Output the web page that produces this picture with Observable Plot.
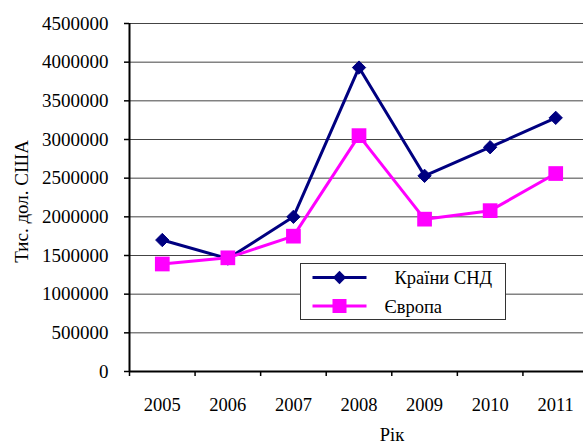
<!DOCTYPE html>
<html>
<head>
<meta charset="utf-8">
<script src="https://cdn.jsdelivr.net/npm/d3@7"></script>
<script src="https://cdn.jsdelivr.net/npm/@observablehq/plot@0.6"></script>
<style>
  html, body { margin: 0; padding: 0; background: #fff; }
  #wrap { position: relative; width: 583px; height: 444px; overflow: hidden; font-family: "Liberation Serif", serif; }
  #wrap svg { max-width: none !important; }
  #wrap svg.overlay { position: absolute; left: 0; top: 0; pointer-events: none; }
  #wrap svg text { font-family: "Liberation Serif", serif; }
</style>
</head>
<body>
<div id="wrap"></div>
<script>
const years = [2005, 2006, 2007, 2008, 2009, 2010, 2011];
const cisValues = [1700000, 1460000, 2000000, 3930000, 2530000, 2900000, 3280000];
const europeValues = [1390000, 1470000, 1750000, 3050000, 1970000, 2080000, 2560000];
const yTicks = [0, 500000, 1000000, 1500000, 2000000, 2500000, 3000000, 3500000, 4000000, 4500000];
const seriesNames = ["Країни СНД", "Європа"];
const yTitle = "Тис. дол. США";
const xTitle = "Рік";

const cis = years.map((year, i) => ({year, value: cisValues[i]}));
const europe = years.map((year, i) => ({year, value: europeValues[i]}));
const bounds = years.map(y => y - 0.5);

const navy = "#000080";
const magenta = "#ff00ff";
const serif = "Liberation Serif";

const chart = Plot.plot({
  width: 588,
  height: 444,
  marginLeft: 129,
  marginRight: 0,
  marginTop: 23,
  marginBottom: 73,
  style: {fontFamily: "'Liberation Serif', serif", fontSize: "18px", background: "transparent", color: "#000", overflow: "visible", maxWidth: "none"},
  x: {type: "linear", domain: [years[0] - 0.5, years[years.length - 1] + 0.5]},
  y: {domain: [0, 4500000]},
  marks: [
    Plot.gridY(yTicks.filter(v => v > 0), {stroke: "#444", strokeOpacity: 1, strokeWidth: 1}),
    Plot.axisY(yTicks, {tickSize: 5, tickPadding: 16, tickFormat: d3.format("d"), fontSize: 19, fontFamily: serif, label: null, stroke: "#000", strokeWidth: 1.5}),
    Plot.axisX(years, {tickSize: 0, tickPadding: 26, tickFormat: d => String(d), fontSize: 18.5, fontFamily: serif, label: null}),
    Plot.axisX(bounds, {tickSize: 5, tickFormat: () => "", label: null, stroke: "#000", strokeWidth: 1.5}),
    Plot.ruleX([years[0] - 0.5], {stroke: "#000", strokeWidth: 2}),
    Plot.ruleY([0], {stroke: "#000", strokeWidth: 2}),
    Plot.line(cis, {x: "year", y: "value", stroke: navy, strokeWidth: 3}),
    Plot.line(europe, {x: "year", y: "value", stroke: magenta, strokeWidth: 3}),
    Plot.dot(cis, {x: "year", y: "value", symbol: "diamond2", r: 6, fill: navy, stroke: navy, strokeWidth: 1}),
    Plot.dot(europe, {x: "year", y: "value", symbol: "square", r: 8.3, fill: magenta, stroke: "none"})
  ]
});

const wrap = document.getElementById("wrap");
wrap.appendChild(chart);

// Overlay: titles and legend
const ov = d3.select(wrap).append("svg")
  .attr("class", "overlay")
  .attr("width", 583).attr("height", 444)
  .attr("font-family", serif);

ov.append("text")
  .attr("transform", "translate(28,201.5) rotate(-90)")
  .attr("text-anchor", "middle")
  .attr("font-family", serif).attr("font-size", 19)
  .text(yTitle);

ov.append("text")
  .attr("x", 392).attr("y", 441)
  .attr("text-anchor", "middle")
  .attr("font-family", serif).attr("font-size", 18.5)
  .text(xTitle);

const lg = ov.append("g").attr("transform", "translate(300.5,263.5)");
lg.append("rect").attr("width", 205).attr("height", 56).attr("fill", "#fff").attr("stroke", "#333").attr("stroke-width", 1);
// row 1
lg.append("line").attr("x1", 12).attr("x2", 66).attr("y1", 14).attr("y2", 14).attr("stroke", navy).attr("stroke-width", 3);
lg.append("path").attr("d", d3.symbol(d3.symbolDiamond2, Math.PI * 36)()).attr("transform", "translate(39,14)").attr("fill", navy);
lg.append("text").attr("x", 94).attr("y", 20.5).attr("font-family", serif).attr("font-size", 18.5).text(seriesNames[0]);
// row 2
lg.append("line").attr("x1", 12).attr("x2", 66).attr("y1", 42.5).attr("y2", 42.5).attr("stroke", magenta).attr("stroke-width", 3);
lg.append("rect").attr("x", 32).attr("y", 35.5).attr("width", 14).attr("height", 14).attr("fill", magenta);
lg.append("text").attr("x", 84).attr("y", 49).attr("font-family", serif).attr("font-size", 18.5).text(seriesNames[1]);
</script>
</body>
</html>
